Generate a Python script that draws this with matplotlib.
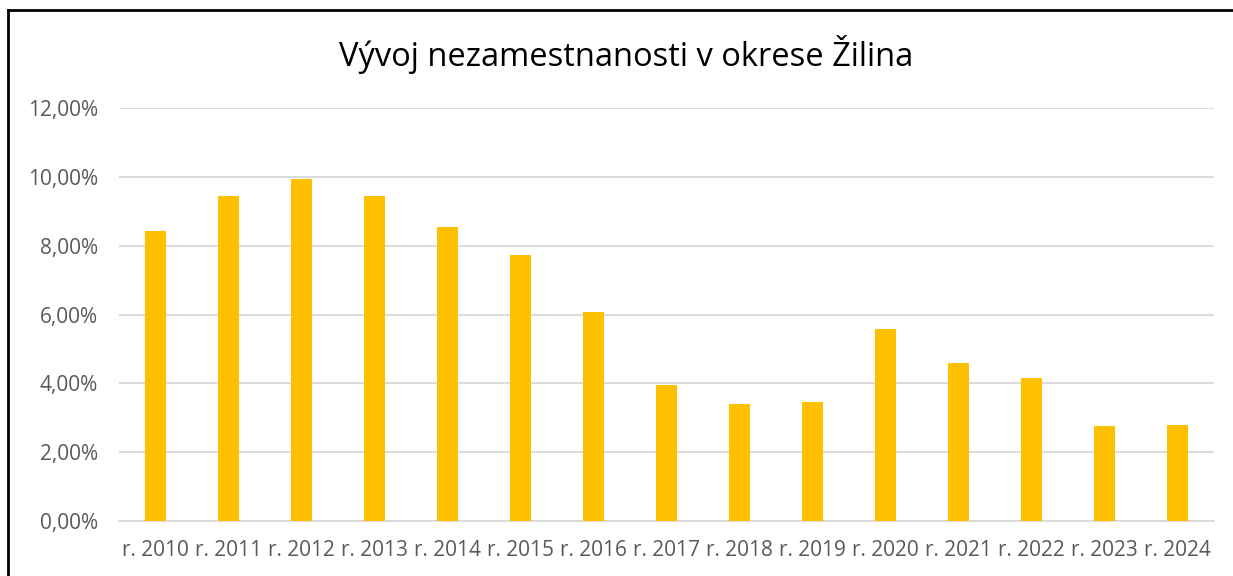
import numpy as np
import matplotlib.pyplot as plt
from matplotlib.lines import Line2D
from matplotlib.ticker import FuncFormatter

roky = ["r. 2010", "r. 2011", "r. 2012", "r. 2013", "r. 2014", "r. 2015", "r. 2016",
        "r. 2017", "r. 2018", "r. 2019", "r. 2020", "r. 2021", "r. 2022", "r. 2023", "r. 2024"]
nezamestnanost = [8.42, 9.44, 9.93, 9.45, 8.53, 7.72, 6.08,
                  3.94, 3.41, 3.46, 5.59, 4.60, 4.16, 2.77, 2.79]
y_ticks = [0, 2, 4, 6, 8, 10, 12]

plt.rcParams['font.family'] = ['Open Sans', 'DejaVu Sans']

fig = plt.figure(figsize=(12.33, 5.76), dpi=100)
ax = fig.add_axes([119 / 1233, 1 - 521 / 576, (1214 - 119) / 1233, (521 - 108) / 576])

x = np.arange(len(roky))
ax.bar(x, nezamestnanost, width=0.30, color='#FFC000', zorder=3)

ax.set_xlim(-0.5, len(roky) - 0.5)
ax.set_ylim(0, 12)
ax.set_yticks(y_ticks)
ax.yaxis.set_major_formatter(FuncFormatter(lambda v, p: f"{v:.2f}%".replace('.', ',')))
ax.set_xticks(x)
ax.set_xticklabels(roky)
ax.grid(axis='y', color='#D9D9D9', linewidth=1.3, zorder=0)
for s in ['top', 'right', 'left']:
    ax.spines[s].set_visible(False)
ax.spines['bottom'].set_color('#D9D9D9')
ax.spines['bottom'].set_linewidth(1.3)
ax.tick_params(axis='both', length=0, colors='#595959', labelsize=15)
ax.tick_params(axis='x', pad=14)
ax.tick_params(axis='y', pad=15)

fig.text(0.508, 1 - 55 / 576, "Vývoj nezamestnanosti v okrese Žilina",
         ha='center', va='center', fontsize=23.5, color='black')

# chart border (top and left visible)
fig.add_artist(Line2D([8 / 1233, 8 / 1233], [0, 1 - 10 / 576], color='black', linewidth=2,
                      transform=fig.transFigure))
fig.add_artist(Line2D([8 / 1233, 1], [1 - 10 / 576, 1 - 10 / 576], color='black', linewidth=2,
                      transform=fig.transFigure))

fig.savefig("out.png", dpi=100)
